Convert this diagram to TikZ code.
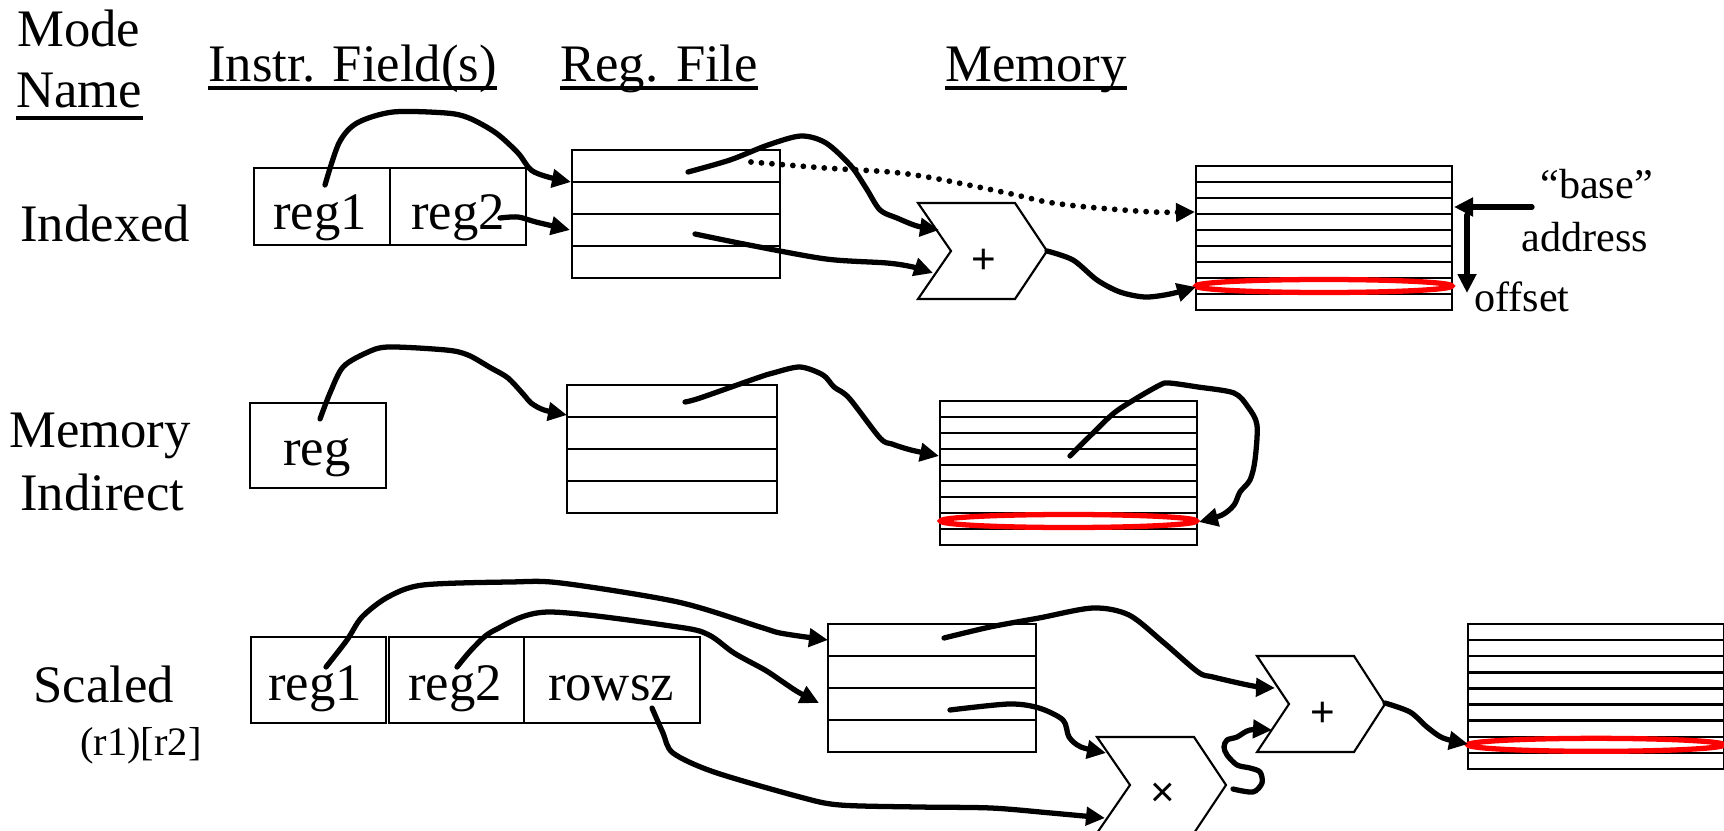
\documentclass[tikz,border=0pt]{standalone}
\usepackage{fontspec}
\setmainfont{Liberation Serif}
\newfontfamily\opsans{Liberation Sans}
\usetikzlibrary{arrows.meta,calc}
\begin{document}
\begin{tikzpicture}[x=0.02cm,y=-0.02cm,
  box/.style={draw, line width=1.35pt, inner sep=0, outer sep=0},
  fieldbox/.style 2 args={box, anchor=north west, minimum width={#1*0.02cm}, minimum height={#2*0.02cm}},
  thinline/.style={line width=1.35pt},
  gate/.style={line width=1.2pt, line join=miter},
  uline/.style={line width=1.8pt},
  conn/.style={line width=3pt, line cap=round, line join=round, -{Triangle[length=0.38cm,width=0.36cm]}},
  dotconn/.style={line width=3.3pt, line cap=round, dash pattern=on 0pt off 0.21cm, -{Triangle[length=0.38cm,width=0.36cm]}},
  ring/.style={draw=red, line width=3pt},
  big/.style={inner sep=0, anchor=base west, font=\fontsize{30}{36}\selectfont},
  mid/.style={inner sep=0, anchor=base west, font=\fontsize{24}{28}\selectfont},
  small/.style={inner sep=0, anchor=base west, font=\fontsize{23}{28}\selectfont},
  optext/.style={inner sep=0, font=\opsans\fontsize{24}{24}\selectfont},
  smoothpath/.style={smooth, tension=0.5}
]
\useasboundingbox (0,0) rectangle (1724,831);

% ---------- headers ----------
\node[big] (mode) at (17,47) {Mode};
\node[big] (name) at (16,108) {Name};
\draw[uline] ($(name.base west)+(0,10)$) -- ($(name.base east)+(0,10)$);
\node[big] (hinstr) at (208,82) {Instr. Field(s)};
\draw[uline] ($(hinstr.base west)+(0,6)$) -- ($(hinstr.base east)+(0,6)$);
\node[big] (hreg) at (560,82) {Reg. File};
\draw[uline] ($(hreg.base west)+(0,6)$) -- ($(hreg.base east)+(0,6)$);
\node[big] (hmem) at (945,82) {Memory};
\draw[uline] ($(hmem.base west)+(0,6)$) -- ($(hmem.base east)+(0,6)$);

% ---------- row labels ----------
\node[big] (lidx) at (20,242) {Indexed};
\node[big] (lmem) at (9,447) {Memory};
\node[big] (lind) at (20,510) {Indirect};
\node[big] (lsc) at (33,702) {Scaled};
\node[small] (lsub) at (80,755) {(r1)[r2]};

% ---------- instruction fields ----------
\node[fieldbox={136}{77}] (i1) at (254,168) {};
\node[fieldbox={136}{77}] (i2) at (390,168) {};
\node[big, anchor=base] (i1t) at (320,230) {reg1};
\node[big, anchor=base] (i2t) at (458,230) {reg2};

\node[fieldbox={136}{85}] (r1) at (250,403) {};
\node[big, anchor=base] (r1t) at (317,465) {reg};

\node[fieldbox={135}{86}] (s1) at (251,637) {};
\node[fieldbox={135}{86}] (s2) at (389,637) {};
\node[fieldbox={176}{86}] (s3) at (524,637) {};
\node[big, anchor=base] (s1t) at (315,700) {reg1};
\node[big, anchor=base] (s2t) at (455,700) {reg2};
\node[big, anchor=base] (s3t) at (611,700) {rowsz};

% ---------- register files ----------
\node[fieldbox={208}{128}] (rf1) at (572,150) {};
\node[fieldbox={210}{128}] (rf2) at (567,385) {};
\node[fieldbox={208}{128}] (rf3) at (828,624) {};
\foreach \r in {rf1,rf2,rf3}{
  \foreach \i in {1,2,3}{
    \draw[thinline] ($(\r.north west)!\i/4!(\r.south west)$) -- ($(\r.north east)!\i/4!(\r.south east)$);
  }
}

% ---------- memories ----------
\node[fieldbox={256}{144}] (m1) at (1196,166) {};
\node[fieldbox={257}{144}] (m2) at (940,401) {};
\node[fieldbox={256}{145}] (m3) at (1468,624) {};
\foreach \m in {m1,m2,m3}{
  \foreach \i in {1,...,8}{
    \draw[thinline] ($(\m.north west)!\i/9!(\m.south west)$) -- ($(\m.north east)!\i/9!(\m.south east)$);
  }
  \draw[ring] ($(\m.north)!7.5/9!(\m.south)$) ellipse [x radius=2.56cm, y radius=0.13cm];
}

% ---------- adders / multiplier ----------
\draw[gate] (918,203) -- (1015,203) -- (1047,251) -- (1015,299) -- (918,299) -- (951,251) -- cycle;
\node[optext] (add1) at (984,261) {+};
\draw[gate] (1257,656) -- (1354,656) -- (1385,704) -- (1354,752) -- (1257,752) -- (1289,704) -- cycle;
\node[optext] (add2) at (1323,714) {+};
\draw[gate] (1097,737) -- (1194,737) -- (1226,785) -- (1194,833) -- (1097,833) -- (1130,785) -- cycle;
\node[optext] (mul) at (1163,795) {×};

% ---------- side labels ----------
\node[mid] (tbase) at (1540,199) {“base”};
\node[mid] (taddr) at (1521,252) {address};
\node[mid] (toff) at (1474,312) {offset};

% ---------- connector end points ----------
\coordinate (c1s) at (325,185);  \coordinate (rf1a) at (571,182);
\coordinate (c2s) at (500,218);  \coordinate (rf1b) at (570,230);
\coordinate (c3s) at (688,172);  \coordinate (add1a) at (939,230);
\coordinate (c4s) at (695,234);  \coordinate (add1b) at (933,273);
\coordinate (dts) at (751,162);  \coordinate (m1base) at (1195,212);
\coordinate (add1o) at (1047,251); \coordinate (m1sel) at (1196,287);
\coordinate (bas) at (1532,207); \coordinate (bae) at (1454,207);
\coordinate (ofs) at (1467,215); \coordinate (ofe) at (1467,293);
\coordinate (c6s) at (320,419);  \coordinate (rf2a) at (567,415);
\coordinate (c7s) at (685,402);  \coordinate (m2a) at (939,456);
\coordinate (c8s) at (1070,456); \coordinate (m2sel) at (1199,522);
\coordinate (c9s) at (326,667);  \coordinate (rf3a) at (828,640);
\coordinate (c10s) at (457,667); \coordinate (rf3b) at (819,703);
\coordinate (c11s) at (652,708); \coordinate (mulb) at (1105,818);
\coordinate (c12s) at (944,638); \coordinate (add2a) at (1275,688);
\coordinate (c13s) at (950,710); \coordinate (mula) at (1106,753);
\coordinate (mulo) at (1233,789); \coordinate (add2b) at (1272,730);
\coordinate (add2o) at (1385,703); \coordinate (m3sel) at (1468,744);

% ---------- connectors: Indexed ----------
\draw[conn] plot[smoothpath] coordinates {(c1s) (339,143) (357,123) (393,112) (446,113) (469,118) (496,133) (518,153) (531,170) (548,177) (rf1a)};
\draw[conn] plot[smoothpath] coordinates {(c2s) (518,217) (536,222) (rf1b)};
\draw[conn] plot[smoothpath] coordinates {(c3s) (730,160) (768,145) (801,136) (826,143) (851,166) (866,188) (880,210) (897,218) (917,226) (add1a)};
\draw[conn] plot[smoothpath] coordinates {(c4s) (749,245) (826,259) (887,263) (913,267) (add1b)};
\draw[dotconn] plot[smoothpath] coordinates {(dts) (825,168) (890,172) (933,178) (1007,193) (1047,202) (1087,207) (1153,212) (m1base)};
\draw[conn] plot[smoothpath] coordinates {(add1o) (1073,260) (1097,280) (1120,292) (1145,297) (1170,294) (m1sel)};
\draw[conn] (bas) -- (bae);
\draw[conn] (ofs) -- (ofe);

% ---------- connectors: Memory Indirect ----------
\draw[conn] plot[smoothpath] coordinates {(c6s) (330,393) (343,367) (366,353) (388,347) (446,350) (468,355) (491,368) (508,378) (524,395) (531,403) (544,410) (rf2a)};
\draw[conn] plot[smoothpath] coordinates {(c7s) (700,398) (757,378) (773,373) (800,367) (823,375) (834,387) (849,398) (880,438) (892,444) (911,450) (m2a)};
\draw[conn] plot[smoothpath] coordinates {(c8s) (1091,435) (1114,413) (1137,398) (1160,385) (1169,383) (1198,387) (1234,393) (1248,407) (1257,425) (1255,460) (1250,480) (1240,492) (1234,505) (1222,515) (m2sel)};

% ---------- connectors: Scaled ----------
\draw[conn] plot[smoothpath] coordinates {(c9s) (347,640) (362,617) (388,597) (423,585) (510,582) (561,583) (678,602) (760,627) (780,633) (813,638) (rf3a)};
\draw[conn] plot[smoothpath] coordinates {(c10s) (474,647) (495,630) (548,612) (678,627) (709,635) (734,653) (765,670) (780,680) (798,692) (rf3b)};
\draw[conn] plot[smoothpath] coordinates {(c11s) (663,733) (673,753) (714,772) (800,797) (840,805) (918,807) (991,808) (1051,813) (mulb)};
\draw[conn] plot[smoothpath] coordinates {(c12s) (990,627) (1039,618) (1093,608) (1129,615) (1163,642) (1198,672) (1213,677) (1253,686) (add2a)};
\draw[conn] plot[smoothpath] coordinates {(c13s) (1009,704) (1039,708) (1063,720) (1069,737) (1081,747) (mula)};
\draw[conn] plot[smoothpath] coordinates {(mulo) (1253,792) (1262,783) (1260,772) (1250,768) (1237,765) (1227,755) (1224,747) (1227,740) (1237,737) (1250,730) (add2b)};
\draw[conn] plot[smoothpath] coordinates {(add2o) (1410,712) (1427,727) (1443,738) (m3sel)};
\end{tikzpicture}
\end{document}
